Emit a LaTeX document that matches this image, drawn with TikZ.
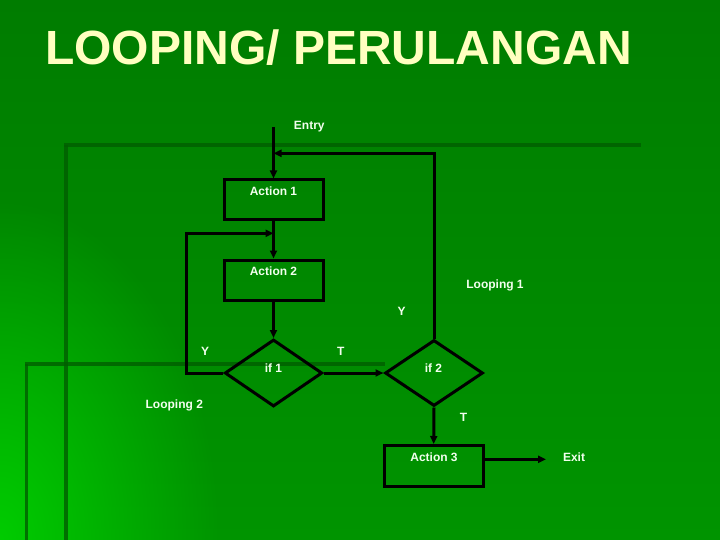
\documentclass[tikz,border=0pt]{standalone}
\usepackage{fontspec}
\setmainfont{Liberation Sans}
\usetikzlibrary{shapes.geometric,arrows.meta,fadings}
\tikzfading[name=glowfade, inner color=transparent!0, outer color=transparent!100]
\definecolor{bgtop}{HTML}{007C00}
\definecolor{bgbot}{HTML}{009400}
\definecolor{glowc}{HTML}{00CC00}
\definecolor{decoc}{HTML}{005E00}
\definecolor{titlec}{HTML}{FFFFC0}
\definecolor{txtc}{HTML}{F2FFEE}
\tikzset{
  deco/.style={draw=decoc, line width=3.5pt, opacity=0.8},
  box/.style={draw=black, line width=3pt, rectangle, minimum width=99pt, minimum height=40pt, inner sep=0pt},
  dia/.style={draw=black, line width=3pt, diamond, inner sep=0pt},
  arr/.style={draw=black, line width=3pt, line join=miter, -{Triangle[length=8pt,width=7pt]}},
  lbl/.style={text=txtc, font=\bfseries\fontsize{12}{14}\selectfont, inner sep=0pt, anchor=base},
  titlefont/.style={text=titlec, font=\bfseries\fontsize{48}{56}\selectfont, inner sep=0pt, anchor=base west}
}
\begin{document}
\begin{tikzpicture}[x=1pt,y=-1pt]
\useasboundingbox (0,0) rectangle (720,540);
% background
\shade[top color=bgtop, bottom color=bgbot] (0,0) rectangle (720,540);
\begin{scope}
  \clip (0,0) rectangle (720,540);
  \fill[glowc, path fading=glowfade] (-220,200) rectangle (220,880);
\end{scope}
% decorative template lines
\draw[deco] (64,145) -- (641,145);
\draw[deco] (66,145) -- (66,540);
\draw[deco] (25,364) -- (385,364);
\draw[deco] (26.5,364) -- (26.5,540);
% title
\node[titlefont] (title) at (45,65) {LOOPING/ PERULANGAN};
% boxes and decisions
\node[box] (a1) at (273.5,200) {};
\node[box] (a2) at (273.5,280) {};
\node[dia, minimum width=97.5pt, minimum height=67pt] (if1) at (273.5,373) {};
\node[dia, minimum width=98pt, minimum height=66pt] (if2) at (434,373) {};
\node[box, minimum height=41pt] (a3) at (433.7,466) {};
% coordinates
\coordinate (entry) at (273.5,127);
\coordinate (l1) at (273.5,153.3);
\coordinate (l2) at (273.5,233.3);
\coordinate (l2c) at (186.7,233.3);
\coordinate (exitpt) at (546,459.3);
% connectors
\draw[arr] (entry) -- (a1.north);
\draw[arr] (a1.south) -- (a2.north);
\draw[arr] (a2.south) -- (if1.north);
\draw[arr] (if1.east) -- (if2.west);
\draw[arr] (if2.south) -- (a3.north);
\draw[arr] (a3.east |- exitpt) -- (exitpt);
\draw[arr] (if2.north) |- (l1);
\draw[arr] (if1.west) -| (l2c) -- (l2);
% labels
\node[lbl] (tentry) at (309.3,129.3) {Entry};
\node[lbl] (ta1) at (273.5,196) {Action 1};
\node[lbl] (ta2) at (273.5,275) {Action 2};
\node[lbl] (tl1) at (495,288.5) {Looping 1};
\node[lbl] (ty2) at (401.7,315) {Y};
\node[lbl] (ty1) at (205,355) {Y};
\node[lbl] (tt1) at (340.7,355) {T};
\node[lbl] (tif1) at (273.5,372) {if 1};
\node[lbl] (tif2) at (433.5,372) {if 2};
\node[lbl] (tl2) at (174.3,408.3) {Looping 2};
\node[lbl] (tt2) at (463.5,421.6) {T};
\node[lbl] (ta3) at (434,461) {Action 3};
\node[lbl] (texit) at (574,461) {Exit};
\end{tikzpicture}
\end{document}
